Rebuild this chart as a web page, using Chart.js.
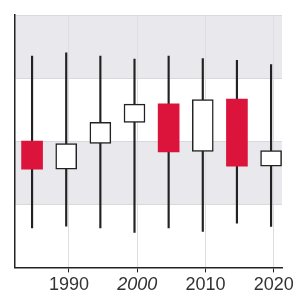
<!DOCTYPE html>
<html>
<head>
<meta charset="utf-8">
<script src="https://cdn.jsdelivr.net/npm/chart.js@4/dist/chart.umd.min.js"></script>
<style>
  html, body { margin: 0; padding: 0; background: #fff; }
  #wrap { width: 300px; height: 300px; }
</style>
</head>
<body>
<div id="wrap"><canvas id="chart"></canvas></div>
<script>
// candle data
const years = [1984.6, 1989.6, 1994.6, 1999.6, 2004.6, 2009.6, 2014.6, 2019.6];
const high  = [83.7, 85.0, 83.7, 82.5, 83.7, 82.7, 82.0, 80.4];
const low   = [15.6, 16.3, 15.6, 13.9, 15.6, 14.3, 17.5, 16.2];
const open  = [50.0, 38.9, 49.1, 57.4, 64.8, 46.0, 66.7, 40.1];
const close = [38.9, 49.1, 57.5, 64.7, 45.8, 66.5, 40.1, 46.3];
const xTicks = [1990, 2000, 2010, 2020];

const falling = open.map((o, i) => o > close[i]);

// alternating grey bands between the y ticks
const bands = {
  id: "bands",
  beforeDraw(chart) {
    const { ctx, chartArea, scales } = chart;
    const y = scales.y;
    const ticks = y.ticks.map(t => t.value);
    ctx.save();
    ctx.fillStyle = "#e9e9ed";
    for (let i = 0; i < ticks.length - 1; i++) {
      // top band and every other one below it
      if ((ticks.length - 2 - i) % 2 === 0) {
        const top = y.getPixelForValue(ticks[i + 1]);
        const bot = y.getPixelForValue(ticks[i]);
        ctx.fillRect(chartArea.left, top, chartArea.right - chartArea.left, bot - top);
      }
    }
    ctx.restore();
  }
};

new Chart(document.getElementById("chart"), {
  type: "bar",
  data: {
    datasets: [
      {
        label: "body",
        data: years.map((x, i) => ({ x: x, y: [open[i], close[i]] })),
        backgroundColor: falling.map(f => f ? "#dc143c" : "#ffffff"),
        borderColor: falling.map(f => f ? "#dc143c" : "#222222"),
        borderWidth: falling.map(f => f ? 0 : 1.5),
        borderSkipped: false,
        barThickness: 21,
        grouped: false
      },
      {
        label: "wick",
        data: years.map((x, i) => ({ x: x, y: [low[i], high[i]] })),
        backgroundColor: "#222222",
        borderWidth: 0,
        barThickness: 1.5,
        grouped: false
      }
    ]
  },
  options: {
    responsive: true,
    maintainAspectRatio: false,
    animation: false,
    layout: { padding: { left: 15, top: 15, right: 18, bottom: 2 } },
    plugins: {
      legend: { display: false },
      tooltip: { enabled: false }
    },
    scales: {
      x: {
        type: "linear",
        min: 1982.1,
        max: 2021.2,
        offset: false,
        afterBuildTicks: axis => {
          axis.ticks = xTicks.map(v => ({ value: v }));
        },
        grid: {
          offset: false,
          color: "#dedee2",
          tickColor: "#222222",
          tickLength: 5
        },
        border: { color: "#222222", width: 1.5 },
        ticks: {
          padding: 2,
          color: "#333333",
          callback: v => String(v),
          font: ctx => ({
            family: "'Liberation Sans', Arial, sans-serif",
            size: 18,
            style: ctx.tick && ctx.tick.value === 2000 ? "italic" : "normal"
          })
        }
      },
      y: {
        min: 0,
        max: 100,
        ticks: { display: false, stepSize: 25 },
        grid: { color: "#d9d9dd", drawTicks: false },
        border: { color: "#222222", width: 1.5 }
      }
    }
  },
  plugins: [bands]
});
</script>
</body>
</html>
